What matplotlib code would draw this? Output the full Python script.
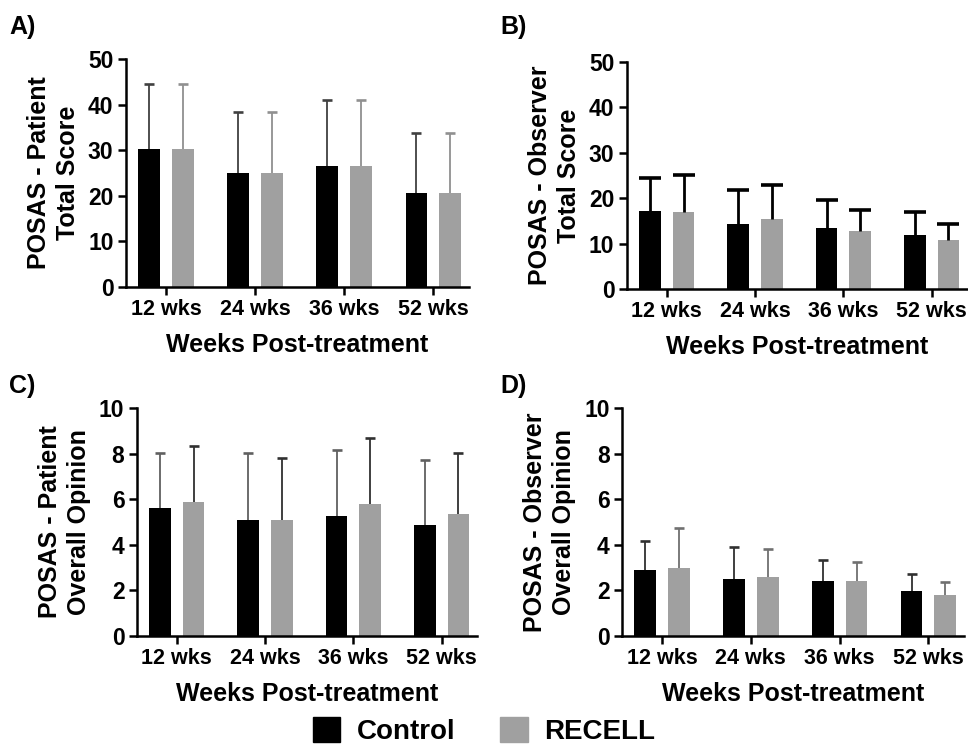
import matplotlib
matplotlib.use('Agg')
import matplotlib.pyplot as plt
from matplotlib.patches import Patch

plt.rcParams['font.family'] = ['Liberation Sans', 'DejaVu Sans']
plt.rcParams['font.weight'] = 'bold'

weeks = ['12 wks', '24 wks', '36 wks', '52 wks']

# A) patient total score
a_ctrl = [30.2, 24.9, 26.5, 20.6]
a_ctrl_sd = [14.3, 13.4, 14.4, 13.2]
a_rec = [30.2, 24.9, 26.5, 20.6]
a_rec_sd = [14.3, 13.4, 14.4, 13.2]

# B) observer total score
b_ctrl = [17.2, 14.4, 13.5, 11.9]
b_ctrl_sd = [7.3, 7.4, 6.1, 5.0]
b_rec = [16.9, 15.5, 12.8, 10.8]
b_rec_sd = [8.2, 7.4, 4.6, 3.6]

# C) patient overall opinion
c_ctrl = [5.6, 5.07, 5.26, 4.89]
c_ctrl_sd = [2.43, 2.94, 2.9, 2.83]
c_rec = [5.88, 5.07, 5.78, 5.37]
c_rec_sd = [2.45, 2.75, 2.92, 2.64]

# D) observer overall opinion
d_ctrl = [2.89, 2.49, 2.40, 1.97]
d_ctrl_sd = [1.28, 1.41, 0.92, 0.77]
d_rec = [2.98, 2.59, 2.40, 1.78]
d_rec_sd = [1.74, 1.23, 0.83, 0.59]

fig = plt.figure(figsize=(9.68, 7.46), dpi=100)
W, H = 968.0, 746.0


def upper_err(ax, xs, ys, sd, col, lw, cap):
    eb = ax.errorbar(xs, ys, yerr=[[0] * len(ys), sd], fmt='none', ecolor=col,
                     elinewidth=lw, capsize=cap, capthick=lw + 0.6)
    # hide the cap sitting on the bar top
    for c in eb[1]:
        if list(c.get_ydata()) == list(ys):
            c.set_visible(False)


def panel(px, letter, lpos, ylab, ymax, ctrl, csd, rec, rsd, ecol, elw, cap):
    left, right, top, bottom = px
    ax = fig.add_axes([left / W, 1 - bottom / H, (right - left) / W, (bottom - top) / H])
    x = range(len(weeks))
    xc = [i - 0.19 for i in x]
    xr = [i + 0.19 for i in x]
    ax.bar(xc, ctrl, width=0.245, color='black')
    ax.bar(xr, rec, width=0.245, color='#a0a0a0')
    upper_err(ax, xc, ctrl, csd, ecol[0], elw, cap)
    upper_err(ax, xr, rec, rsd, ecol[1], elw, cap)
    ax.set_xlim(-0.45, 3.4)
    ax.set_ylim(0, ymax)
    ax.set_yticks([ymax / 5 * k for k in range(6)])
    ax.set_yticklabels([str(int(ymax / 5 * k)) for k in range(6)])
    ax.set_xticks(list(x))
    ax.set_xticklabels(weeks)
    ax.spines['top'].set_visible(False)
    ax.spines['right'].set_visible(False)
    for s in ['left', 'bottom']:
        ax.spines[s].set_linewidth(1.8)
    ax.tick_params(width=1.8, length=6, pad=3)
    ax.tick_params(axis='x', labelsize=15.5, pad=3)
    ax.tick_params(axis='y', labelsize=16.5)
    ax.set_xlabel('Weeks Post-treatment', fontsize=18, fontweight='bold', labelpad=9)
    ax.set_ylabel(ylab, fontsize=18, fontweight='bold', labelpad=6, linespacing=1.25)
    fig.text(lpos[0] / W, 1 - lpos[1] / H, letter, fontsize=18, fontweight='bold',
             va='center', ha='left')
    return ax


panel((126, 469, 59, 287), 'A)', (9, 27), 'POSAS - Patient\nTotal Score', 50,
      a_ctrl, a_ctrl_sd, a_rec, a_rec_sd, ('#404040', '#909090'), 1.3, 3.6)
panel((627, 967, 62, 289), 'B)', (500, 27), 'POSAS - Observer\nTotal Score', 50,
      b_ctrl, b_ctrl_sd, b_rec, b_rec_sd, ('black', 'black'), 2.0, 8)
panel((137, 477, 408, 636), 'C)', (9, 386), 'POSAS - Patient\nOverall Opinion', 10,
      c_ctrl, c_ctrl_sd, c_rec, c_rec_sd, ('#606060', '#303030'), 1.3, 3.6)
panel((622, 964, 408, 636), 'D)', (500, 386), 'POSAS - Observer\nOverall Opinion', 10,
      d_ctrl, d_ctrl_sd, d_rec, d_rec_sd, ('#303030', '#707070'), 1.3, 3.6)

handles = [Patch(color='black', label='Control'), Patch(color='#a0a0a0', label='RECELL')]
fig.legend(handles=handles, loc='center', bbox_to_anchor=(0.50, 0.02), ncol=2,
           frameon=False, handlelength=1.0, handleheight=1.0,
           columnspacing=1.6, handletextpad=0.6, prop={'weight': 'bold', 'size': 20})

fig.savefig('out.png', dpi=100)
